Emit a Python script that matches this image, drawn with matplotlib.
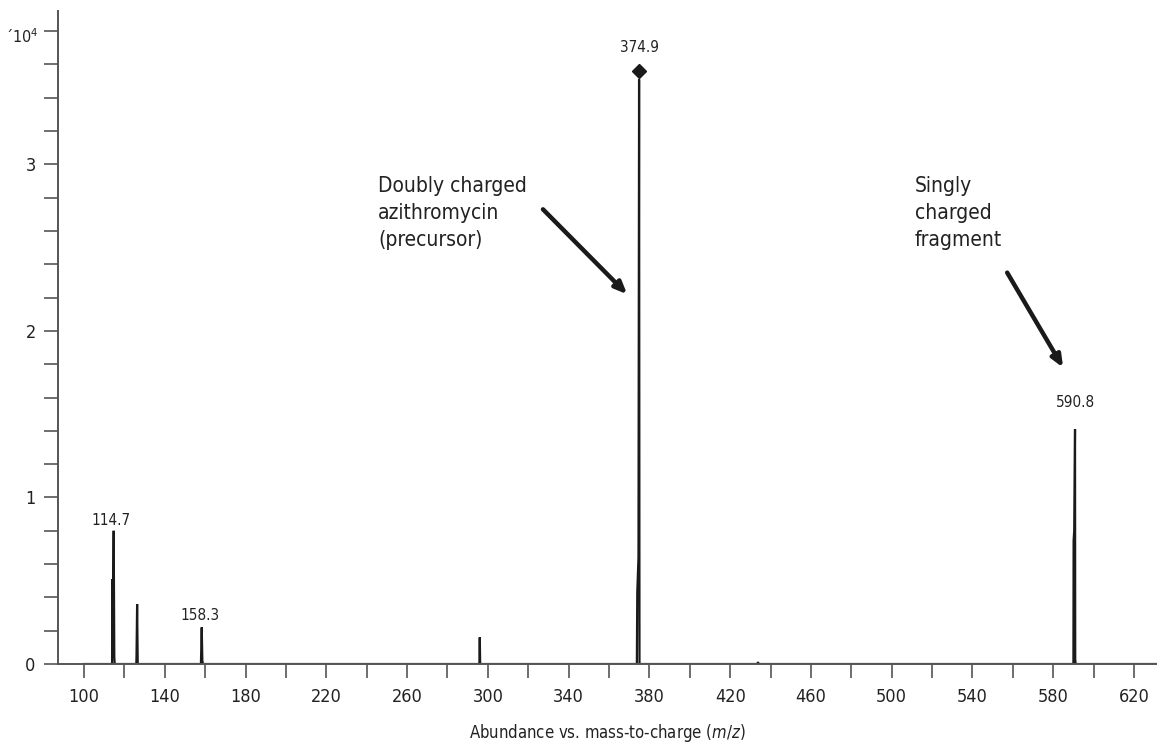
import matplotlib
matplotlib.use("Agg")
import matplotlib.pyplot as plt
from matplotlib.ticker import MultipleLocator, FixedLocator

plt.rcParams['font.family'] = ['DejaVu Sans']
plt.rcParams['font.stretch'] = 'condensed'

# profile points of the spectrum (abundance in units of 10^4)
mz = [100.0, 113.9, 114.0, 114.2, 114.7, 115.0, 115.2,
      125.9, 126.0, 126.3, 126.6,
      157.9, 158.3, 158.6, 158.9,
      295.8, 296.0, 296.2,
      373.8, 374.0, 374.6, 374.9, 375.1,
      433.5, 433.8, 434.1,
      590.0, 590.1, 590.4, 590.8, 590.9, 591.1, 631.5]
abundance = [0, 0, 0.51, 0.12, 0.80, 0.04, 0,
             0, 0.05, 0.36, 0,
             0, 0.22, 0.02, 0,
             0, 0.16, 0,
             0, 0.43, 0.64, 3.51, 0,
             0, 0.012, 0,
             0, 0.74, 0.80, 1.41, 0.03, 0, 0]

peak_mz = [114.7, 158.3, 374.9, 590.8]
peak_labels = ["114.7", "158.3", "374.9", "590.8"]
label_y = [0.86, 0.29, 3.70, 1.57]
label_dx = [-1.5, -1.0, 0.0, 0.0]

precursor_mz = 374.9
precursor_y = 3.56

fig = plt.figure(figsize=(11.57, 7.42), dpi=100)
ax = fig.add_axes([0.0501, 0.1051, 0.9499, 0.8799])

ax.plot(mz, abundance, color="#1a1a1a", lw=1.6, solid_joinstyle="miter")
ax.plot([precursor_mz], [precursor_y], marker="D", ms=7, color="#1a1a1a", ls="none")

for x, t, y, dx in zip(peak_mz, peak_labels, label_y, label_dx):
    ax.text(x + dx, y, t, ha="center", va="center", fontsize=11, color="#222222")

ax.annotate("´10$^4$", xy=(0.0, 3.8), xycoords=ax.get_yaxis_transform(),
            xytext=(-20, -6), textcoords="offset pixels", ha="right", va="center",
            fontsize=11.5, color="#222222")

ax.text(245.6, 2.93, "Doubly charged\nazithromycin\n(precursor)", ha="left", va="top",
        fontsize=15, color="#222222", linespacing=1.45)
ax.text(511.6, 2.93, "Singly\ncharged\nfragment", ha="left", va="top",
        fontsize=15, color="#222222", linespacing=1.45)

arrow = dict(arrowstyle="-|>,head_length=0.7,head_width=0.3", color="#1a1a1a", lw=3.2,
             shrinkA=0, shrinkB=0)
ax.annotate("", xy=(369.0, 2.22), xytext=(327.3, 2.73), arrowprops=arrow)
ax.annotate("", xy=(584.9, 1.78), xytext=(557.2, 2.35), arrowprops=arrow)

ax.set_xlim(87.1, 631.4)
ax.set_ylim(0, 3.92)

ax.set_xticks(list(range(100, 621, 40)))
ax.xaxis.set_minor_locator(FixedLocator(list(range(120, 620, 40))))
ax.yaxis.set_major_locator(FixedLocator([0, 1, 2, 3]))
ax.yaxis.set_minor_locator(MultipleLocator(0.2))

ax.tick_params(axis="both", which="both", length=10, width=1.2, color="#555555",
               labelsize=13, labelcolor="#222222")
ax.tick_params(axis="x", pad=7)
ax.tick_params(axis="y", pad=6)

for s in ["top", "right"]:
    ax.spines[s].set_visible(False)
for s in ["left", "bottom"]:
    ax.spines[s].set_color("#555555")
    ax.spines[s].set_linewidth(1.4)

ax.set_xlabel("Abundance vs. mass-to-charge ($m/z$)", fontsize=12, color="#222222", labelpad=12)

fig.savefig("out.png", dpi=100)
